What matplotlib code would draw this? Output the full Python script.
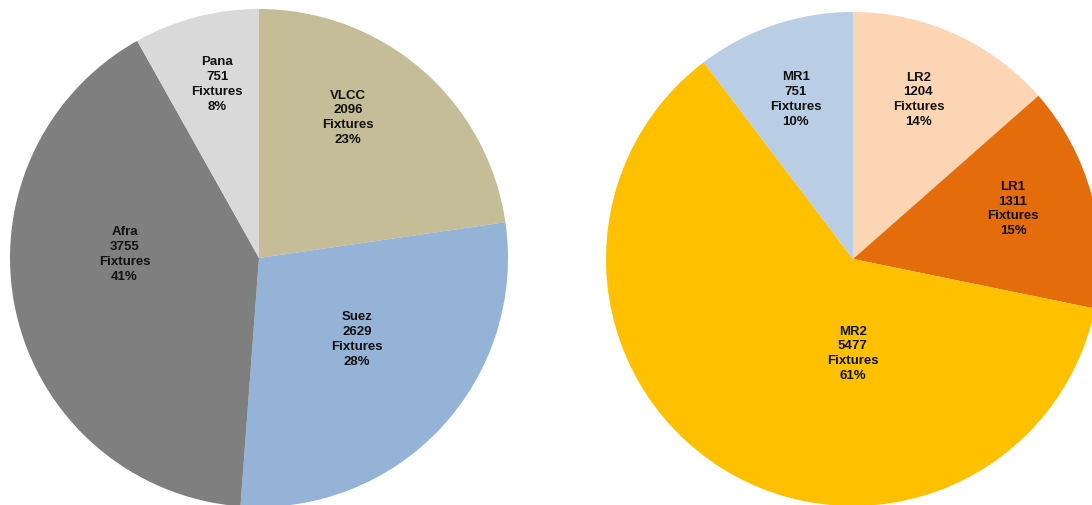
import numpy as np
import matplotlib.pyplot as plt

plt.rcParams['font.family'] = ['Liberation Sans', 'DejaVu Sans']

# crude tankers
crude_names = ['VLCC', 'Suez', 'Afra', 'Pana']
crude_fixtures = [2096, 2629, 3755, 751]
crude_values = [2096, 2629, 3755, 751]
crude_colors = ['#C4BD97', '#95B3D7', '#7F7F7F', '#D9D9D9']

# product tankers (MR1 wedge is larger than its printed label)
prod_names = ['LR2', 'LR1', 'MR2', 'MR1']
prod_fixtures = [1204, 1311, 5477, 751]
prod_values = [1204, 1311, 5477, 920]
prod_colors = ['#FCD5B5', '#E46C0A', '#FFC000', '#B9CDE5']

# label placement (radius fraction, angle shift in degrees)
crude_lab_pos = [(0.67, 8.6), (0.51, 3.5), (0.54, -14.5), (0.72, -1.2)]
prod_lab_pos = [(0.70, 2.1), (0.68, 2.8), (0.38, 32), (0.69, 1.1)]

W, H = 1092, 506
fig = plt.figure(figsize=(W / 100, H / 100), dpi=100)
ax = fig.add_axes([0, 0, 1, 1])


def draw_pie(center, radius, names, fixtures, values, colors, lab_pos):
    wedges, _ = ax.pie(values, colors=colors, startangle=90, counterclock=False,
                       center=center, radius=radius, frame=True,
                       wedgeprops=dict(linewidth=0))
    total = sum(values)
    for w, n, f, v, (rf, da) in zip(wedges, names, fixtures, values, lab_pos):
        mid = np.deg2rad((w.theta1 + w.theta2) / 2 + da)
        x = center[0] + rf * radius * np.cos(mid)
        y = center[1] + rf * radius * np.sin(mid)
        pct = round(100 * v / total)
        ax.text(x, y, f'{n}\n{f}\nFixtures\n{pct}%', ha='center', va='center',
                fontsize=9.5, fontweight='bold', color='#111111', linespacing=1.32)


draw_pie((259, H - 259), 249, crude_names, crude_fixtures, crude_values,
         crude_colors, crude_lab_pos)
draw_pie((853, H - 260), 247, prod_names, prod_fixtures, prod_values,
         prod_colors, prod_lab_pos)

ax.set_xlim(0, W)
ax.set_ylim(0, H)
ax.set_aspect('equal')
ax.axis('off')

fig.savefig('out.png', dpi=100)
